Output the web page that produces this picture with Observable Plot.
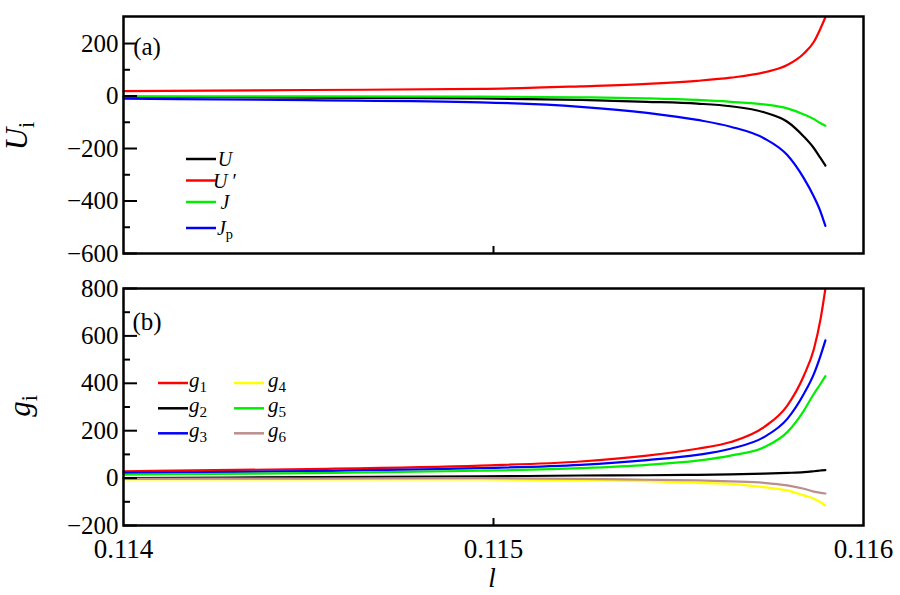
<!DOCTYPE html>
<html><head><meta charset="utf-8">
<script src="https://cdn.jsdelivr.net/npm/d3@7"></script>
<script src="https://cdn.jsdelivr.net/npm/@observablehq/plot@0.6"></script>
<style>
body{margin:0;background:#fff;}
#chart{position:relative;width:900px;height:595px;}
#chart svg{position:absolute;left:0;overflow:visible;}
#chart svg, #chart svg text, #chart svg tspan{font-family:"Liberation Serif","Times New Roman",serif !important;}
</style></head><body><div id="chart"></div>
<script>
// shared x values (l)
const lVals = [0.114, 0.1145, 0.114965, 0.115235, 0.115415, 0.115551, 0.115641, 0.115731, 0.115794, 0.115839, 0.115866, 0.115884, 0.115897];

// panel (a) series
const seriesA = ["U", "U'", "J", "Jp"];
const colorsA = ["#000000", "#ff0000", "#00ee00", "#0000ff"];
const U_vals  = [-3, -6, -9, -15, -22, -29, -39, -62, -98, -155, -199, -237, -265];
const Up_vals = [19, 23, 27, 37, 46, 58, 70, 90, 118, 162, 207, 258, 300];
const J_vals  = [-1, -1, -2, -5, -9, -15, -22, -32, -47, -70, -88, -104, -113];
const Jp_vals = [-10, -16, -24, -41, -64, -91, -117, -161, -225, -314, -384, -441, -495];

// panel (b) series
const seriesB = ["g1", "g2", "g3", "g4", "g5", "g6"];
const colorsB = ["#ff0000", "#000000", "#0000ff", "#ffff00", "#00ee00", "#bc8f8f"];
const g1_vals = [29, 38, 53, 70, 95, 124, 152, 215, 306, 433, 545, 672, 799];
const g2_vals = [0, 4, 7, 11, 12, 14, 16, 19, 22, 25, 29, 32, 34];
const g3_vals = [22, 30, 42, 56, 76, 98, 124, 173, 250, 356, 440, 517, 581];
const g4_vals = [-5, -6, -6, -9, -13, -20, -24, -38, -52, -73, -87, -102, -115];
const g5_vals = [15, 21, 31, 42, 56, 74, 95, 130, 194, 285, 356, 398, 430];
const g6_vals = [-3, -2, 0, -3, -7, -10, -14, -20, -31, -45, -57, -62, -65];

// ticks
const xTickLabels = [0.114, 0.115, 0.116];
const xInnerTicks = [0.115];
const yTicksA = [-600, -400, -200, 0, 200];
const yMinorA = [-500, -300, -100, 100];
const yTicksB = [-200, 0, 200, 400, 600, 800];
const yMinorB = [-100, 100, 300, 500, 700];

const tidy = (names, arrs) => names.flatMap((s, i) => arrs[i].map((v, j) => ({l: lVals[j], v, s})));
const dataA = tidy(seriesA, [U_vals, Up_vals, J_vals, Jp_vals]);
const dataB = tidy(seriesB, [g1_vals, g2_vals, g3_vals, g4_vals, g5_vals, g6_vals]);

const FONT = "Liberation Serif, serif";
const xDomain = [0.114, 0.116];
const commonStyle = {fontFamily: FONT, fontSize: "25px", background: "transparent", color: "black", overflow: "visible"};

function yAxes(major, minor) {
  return [
    Plot.axisY(major, {tickSize: 0, tickPadding: 5, label: null}),
    Plot.axisY(major, {tickSize: 14, dx: 14, fill: "none", stroke: "black", strokeWidth: 2, label: null}),
    Plot.axisY(minor, {tickSize: 7, dx: 7, fill: "none", stroke: "black", strokeWidth: 2, label: null})
  ];
}

const pa = Plot.plot({
  width: 900, height: 270, marginTop: 16, marginBottom: 17, marginLeft: 123, marginRight: 37,
  style: commonStyle,
  x: {domain: xDomain},
  y: {domain: [-600, 303], label: null},
  color: {domain: seriesA, range: colorsA},
  marks: [
    Plot.line(dataA, {x: "l", y: "v", stroke: "s", z: "s", strokeWidth: 2.2, curve: "monotone-x"}),
    ...yAxes(yTicksA, yMinorA),
    Plot.axisX(xInnerTicks, {tickSize: 7, dy: -7, fill: "none", stroke: "black", strokeWidth: 2, label: null}),
    Plot.frame({stroke: "black", strokeWidth: 2.5})
  ]
});
pa.style.top = "0px";

const pb = Plot.plot({
  width: 900, height: 325, marginTop: 18, marginBottom: 70, marginLeft: 123, marginRight: 37,
  style: commonStyle,
  x: {domain: xDomain, label: null},
  y: {domain: [-200, 800], label: null},
  color: {domain: seriesB, range: colorsB},
  marks: [
    Plot.line(dataB, {x: "l", y: "v", stroke: "s", z: "s", strokeWidth: 2.2, curve: "monotone-x"}),
    ...yAxes(yTicksB, yMinorB),
    Plot.axisX(xInnerTicks, {tickSize: 7, dy: -7, fill: "none", stroke: "black", strokeWidth: 2, label: null}),
    Plot.axisX(xTickLabels, {tickSize: 0, tickPadding: 13, label: null, tickFormat: d3.format(".3f")}),
    Plot.frame({stroke: "black", strokeWidth: 2.5})
  ]
});
pb.style.top = "270px";

const root = document.getElementById("chart");
root.appendChild(pa);
root.appendChild(pb);

// enforce tick label sizes
d3.selectAll('#chart svg g[aria-label="y-axis tick label"]').attr("font-size", 25).selectAll("text").style("font-size", "25px");
d3.selectAll('#chart svg g[aria-label="x-axis tick label"]').attr("font-size", 27).selectAll("text").style("font-size", "27px");

function addMath(svg, x, y, parts, size, opts = {}) {
  const t = d3.select(svg).append("text")
    .attr("x", x).attr("y", y)
    .style("font-size", size + "px").attr("fill", "black");
  if (opts.rotate) t.attr("transform", `rotate(-90 ${x} ${y})`).attr("text-anchor", "middle");
  if (opts.anchor) t.attr("text-anchor", opts.anchor);
  parts.forEach(p => {
    const ts = t.append("tspan").text(p.t);
    if (p.i) ts.attr("font-style", "italic");
    if (p.sub) ts.attr("baseline-shift", "-30%").style("font-size", (size * 0.72) + "px");
    if (p.sup) ts.attr("baseline-shift", "40%").style("font-size", (size * 0.72) + "px");
  });
  return t;
}

// panel (a) texts
addMath(pa, 147, 55, [{t: "(a)"}], 25);
addMath(pa, 27, 136, [{t: "U", i: true}, {t: "i", sub: true}], 31, {rotate: true});
const legA = [
  {y: 159, parts: [{t: "U", i: true}]},
  {y: 180.5, parts: [{t: "U", i: true}, {t: " \u2032"}]},
  {y: 202, parts: [{t: "J", i: true}]},
  {y: 228, parts: [{t: "J", i: true}, {t: "p", sub: true}]}
];
legA.forEach((d, i) => {
  d3.select(pa).append("line").attr("x1", 186).attr("x2", 216).attr("y1", d.y).attr("y2", d.y)
    .attr("stroke", colorsA[i]).attr("stroke-width", 2.5);
  addMath(pa, 225, d.y + 7, d.parts, 20);
});

// panel (b) texts
addMath(pb, 147, 60, [{t: "(b)"}], 25);
addMath(pb, 30, 136, [{t: "g", i: true}, {t: "i", sub: true}], 31, {rotate: true});
const legB = [
  {x: 158, y: 113, k: 0}, {x: 158, y: 138.3, k: 1}, {x: 158, y: 163.3, k: 2},
  {x: 234, y: 113, k: 3}, {x: 234, y: 138.3, k: 4}, {x: 234, y: 163.3, k: 5}
];
legB.forEach(d => {
  d3.select(pb).append("line").attr("x1", d.x).attr("x2", d.x + 30).attr("y1", d.y).attr("y2", d.y)
    .attr("stroke", colorsB[d.k]).attr("stroke-width", 2.5);
  addMath(pb, d.x + 40 + (d.x > 200 ? 3 : 0), d.y + 4, [{t: "g", i: true}, {t: String(d.k + 1), sub: true}], 21);
});
addMath(pb, 492, 317, [{t: "l", i: true}], 27, {anchor: "middle"});
</script></body></html>
